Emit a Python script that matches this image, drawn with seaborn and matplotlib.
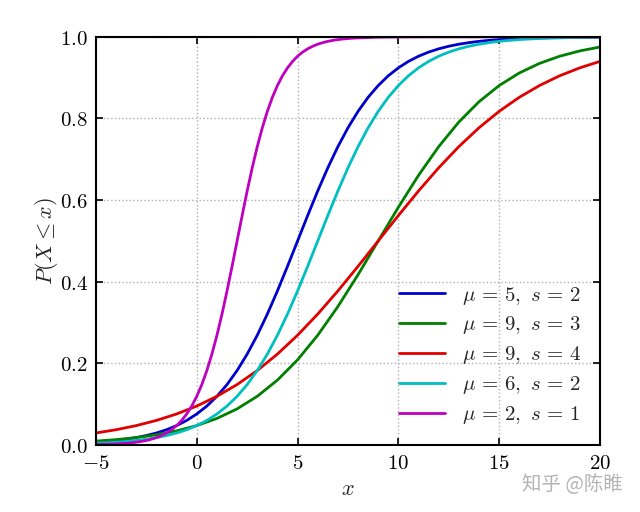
import numpy as np
import pandas as pd
import seaborn as sns
import matplotlib.pyplot as plt

# values
x_fine = np.arange(-5, 20.01, 0.5)
x_coarse = np.arange(-5, 21, 1)
x_magenta = np.concatenate([np.arange(-5, 8.01, 0.25), np.arange(9, 21, 1)])

y_blue = [0.0067, 0.0086, 0.0110, 0.0141, 0.0180, 0.0230, 0.0293, 0.0373, 0.0474, 0.0601,
          0.0759, 0.0953, 0.1192, 0.1480, 0.1824, 0.2227, 0.2689, 0.3208, 0.3775, 0.4378,
          0.5000, 0.5622, 0.6225, 0.6792, 0.7311, 0.7773, 0.8176, 0.8520, 0.8808, 0.9047,
          0.9241, 0.9399, 0.9526, 0.9627, 0.9707, 0.9770, 0.9820, 0.9859, 0.9890, 0.9914,
          0.9933, 0.9948, 0.9959, 0.9968, 0.9975, 0.9981, 0.9985, 0.9988, 0.9991, 0.9993, 0.9994]
y_cyan = [0.0041, 0.0052, 0.0067, 0.0086, 0.0110, 0.0141, 0.0180, 0.0230, 0.0293, 0.0373,
          0.0474, 0.0601, 0.0759, 0.0953, 0.1192, 0.1480, 0.1824, 0.2227, 0.2689, 0.3208,
          0.3775, 0.4378, 0.5000, 0.5622, 0.6225, 0.6792, 0.7311, 0.7773, 0.8176, 0.8520,
          0.8808, 0.9047, 0.9241, 0.9399, 0.9526, 0.9627, 0.9707, 0.9770, 0.9820, 0.9859,
          0.9890, 0.9914, 0.9933, 0.9948, 0.9959, 0.9968, 0.9975, 0.9981, 0.9985, 0.9988, 0.9991]
y_magenta = [0.0009, 0.0012, 0.0015, 0.0019, 0.0025, 0.0032, 0.0041, 0.0052, 0.0067, 0.0086,
             0.0110, 0.0141, 0.0180, 0.0230, 0.0293, 0.0373, 0.0474, 0.0601, 0.0759, 0.0953,
             0.1192, 0.1480, 0.1824, 0.2227, 0.2689, 0.3208, 0.3775, 0.4378, 0.5000, 0.5622,
             0.6225, 0.6792, 0.7311, 0.7773, 0.8176, 0.8520, 0.8808, 0.9047, 0.9241, 0.9399,
             0.9526, 0.9627, 0.9707, 0.9770, 0.9820, 0.9859, 0.9890, 0.9914, 0.9933, 0.9948,
             0.9959, 0.9968, 0.9975,
             0.9991, 0.9997, 0.9999, 1.0, 1.0, 1.0, 1.0, 1.0, 1.0, 1.0, 1.0, 1.0]
y_green = [0.0093, 0.0130, 0.0180, 0.0249, 0.0344, 0.0474, 0.0650, 0.0884, 0.1192, 0.1589,
           0.2086, 0.2689, 0.3392, 0.4174, 0.5000, 0.5826, 0.6608, 0.7311, 0.7914, 0.8411,
           0.8808, 0.9116, 0.9350, 0.9526, 0.9656, 0.9751]
y_red = [0.0293, 0.0373, 0.0474, 0.0601, 0.0759, 0.0953, 0.1192, 0.1480, 0.1824, 0.2227,
         0.2689, 0.3208, 0.3775, 0.4378, 0.5000, 0.5622, 0.6225, 0.6792, 0.7311, 0.7773,
         0.8176, 0.8520, 0.8808, 0.9047, 0.9241, 0.9399]

labels = [r'$\mu\,=\,5,\ s\,=\,2$', r'$\mu\,=\,9,\ s\,=\,3$', r'$\mu\,=\,9,\ s\,=\,4$',
          r'$\mu\,=\,6,\ s\,=\,2$', r'$\mu\,=\,2,\ s\,=\,1$']
colors = ['#0000cc', '#007f00', '#e00000', '#00bfbf', '#bf00bf']

xtick_vals = [-5, 0, 5, 10, 15, 20]
xtick_labels = [r'$-5$', r'$0$', r'$5$', r'$10$', r'$15$', r'$20$']
ytick_vals = [0.0, 0.2, 0.4, 0.6, 0.8, 1.0]
ytick_labels = [r'$0.0$', r'$0.2$', r'$0.4$', r'$0.6$', r'$0.8$', r'$1.0$']

sns.set_style('ticks')
plt.rcParams['mathtext.fontset'] = 'cm'
plt.rcParams['xtick.direction'] = 'in'
plt.rcParams['ytick.direction'] = 'in'
plt.rcParams['xtick.top'] = True
plt.rcParams['ytick.right'] = True

fig = plt.figure(figsize=(6.4, 5.12), dpi=100)
ax = fig.add_axes([0.15, 0.131, 0.7875, 0.797])

curves = [(x_fine, y_blue), (x_coarse, y_green), (x_coarse, y_red),
          (x_fine, y_cyan), (x_magenta, y_magenta)]
for (xs, ys), lab, col in zip(curves, labels, colors):
    df = pd.DataFrame({'x': xs, 'y': ys})
    sns.lineplot(data=df, x='x', y='y', ax=ax, color=col, linewidth=2, label=lab, sort=False)

ax.set_xlim(-5, 20)
ax.set_ylim(0, 1)
ax.set_xticks(xtick_vals)
ax.set_xticklabels(xtick_labels, fontsize=15)
ax.set_yticks(ytick_vals)
ax.set_yticklabels(ytick_labels, fontsize=15)
ax.tick_params(length=5, width=1.2, colors='black', pad=6)
ax.grid(True, color='#b0b0b0', linestyle=':', linewidth=1)
for sp in ax.spines.values():
    sp.set_linewidth(1.5)
    sp.set_color('black')

ax.set_xlabel(r'$x$', fontsize=16)
ax.set_ylabel(r'$P(X \leq x)$', fontsize=16, labelpad=0)

ax.legend(loc='lower right', frameon=False, fontsize=15, handlelength=2.2,
          labelspacing=0.38, bbox_to_anchor=(1.0, 0.0))

fig.text(0.973, 0.053, '知乎 @陈睢', ha='right', va='center', fontsize=14,
         color='#b4b4b4', family=['Noto Sans CJK SC', 'DejaVu Sans'])

fig.savefig('out.png', dpi=100)
